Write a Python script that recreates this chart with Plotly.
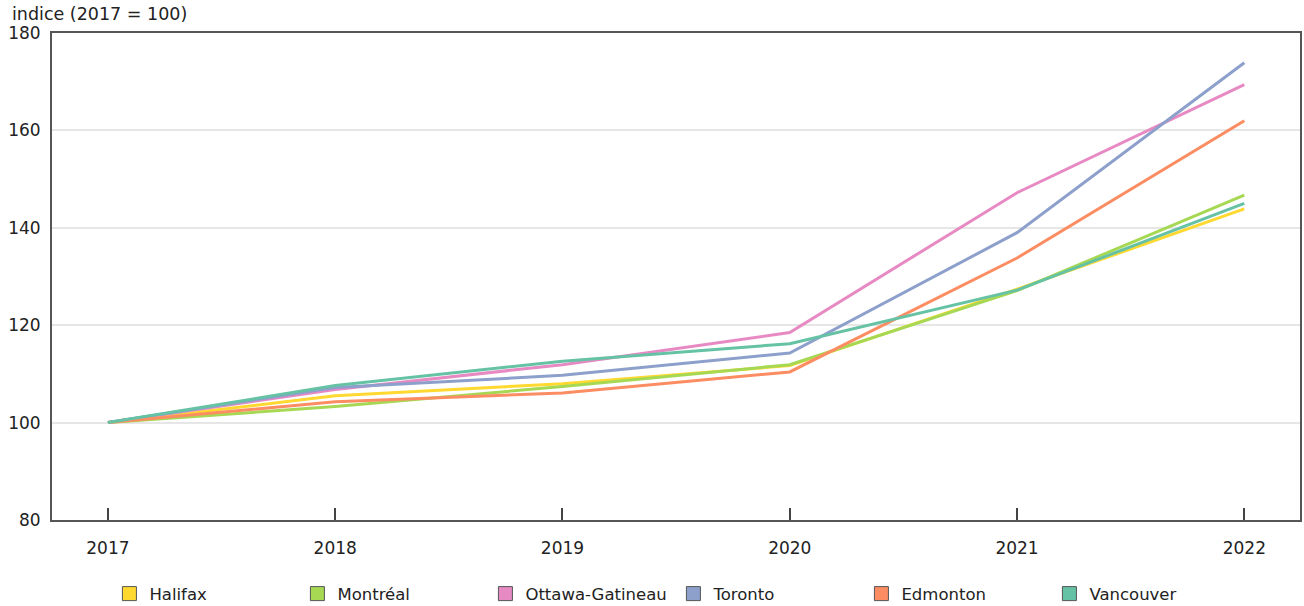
import plotly.graph_objects as go

# Index values (2017 = 100) by metropolitan area
years = [2017, 2018, 2019, 2020, 2021, 2022]
halifax = [100, 105.5, 108.0, 111.7, 127.4, 143.9]
montreal = [100, 103.3, 107.4, 111.9, 127.1, 146.7]
ottawa_gatineau = [100, 106.8, 111.9, 118.5, 147.2, 169.4]
toronto = [100, 107.2, 109.7, 114.3, 139.0, 173.9]
edmonton = [100, 104.3, 106.1, 110.4, 133.8, 162.0]
vancouver = [100, 107.6, 112.6, 116.2, 127.2, 145.0]

series_names = ["Halifax", "Montréal", "Ottawa-Gatineau", "Toronto", "Edmonton", "Vancouver"]
series_values = [halifax, montreal, ottawa_gatineau, toronto, edmonton, vancouver]
series_colors = ["#ffd92f", "#a6d854", "#e78ac3", "#8da0cb", "#fc8d62", "#66c2a5"]

y_ticks = [80, 100, 120, 140, 160, 180]

FONT = "DejaVu Sans, Verdana, sans-serif"
TEXT = "#222222"

fig = go.Figure()

for name, vals, col in zip(series_names, series_values, series_colors):
    fig.add_trace(go.Scatter(
        x=years, y=vals, mode="lines", name=name,
        line=dict(color=col, width=3),
        showlegend=False, hoverinfo="x+y+name",
    ))

# square swatches for the legend
for name, col in zip(series_names, series_colors):
    fig.add_trace(go.Scatter(
        x=[None], y=[None], mode="markers", name=name,
        marker=dict(symbol="square", size=14, color=col,
                    line=dict(color="#555555", width=1)),
        showlegend=True,
    ))

fig.update_layout(
    width=1304, height=606,
    margin=dict(l=52, r=2, t=33, b=86),
    paper_bgcolor="white", plot_bgcolor="white",
    font=dict(family=FONT, size=17, color=TEXT),
    legend=dict(
        orientation="h", x=0.046, xanchor="left",
        yref="container", y=0.02, yanchor="middle",
        entrywidth=143, entrywidthmode="pixels",
        font=dict(family=FONT, size=16.5, color=TEXT),
        itemwidth=30, traceorder="normal",
    ),
    annotations=[dict(
        text="indice (2017 = 100)", xref="paper", yref="paper",
        x=-0.034, y=1.038, xanchor="left", yanchor="middle",
        showarrow=False, font=dict(family=FONT, size=17.5, color=TEXT),
    )],
)

fig.update_xaxes(
    range=[2016.754, 2022.245], tickmode="array", tickvals=years,
    ticktext=[str(y) for y in years],
    ticks="inside", ticklen=12, tickwidth=1.5, tickcolor="#444444",
    ticklabelstandoff=12,
    showgrid=False, zeroline=False,
    showline=True, linecolor="#555555", linewidth=2, mirror=True,
)
fig.update_yaxes(
    range=[80, 180], tickmode="array", tickvals=y_ticks,
    ticks="", ticklabelstandoff=6,
    showgrid=True, gridcolor="#e6e6e6", gridwidth=1.5,
    zeroline=False,
    showline=True, linecolor="#555555", linewidth=2, mirror=True,
)

fig.write_html("out.html")
